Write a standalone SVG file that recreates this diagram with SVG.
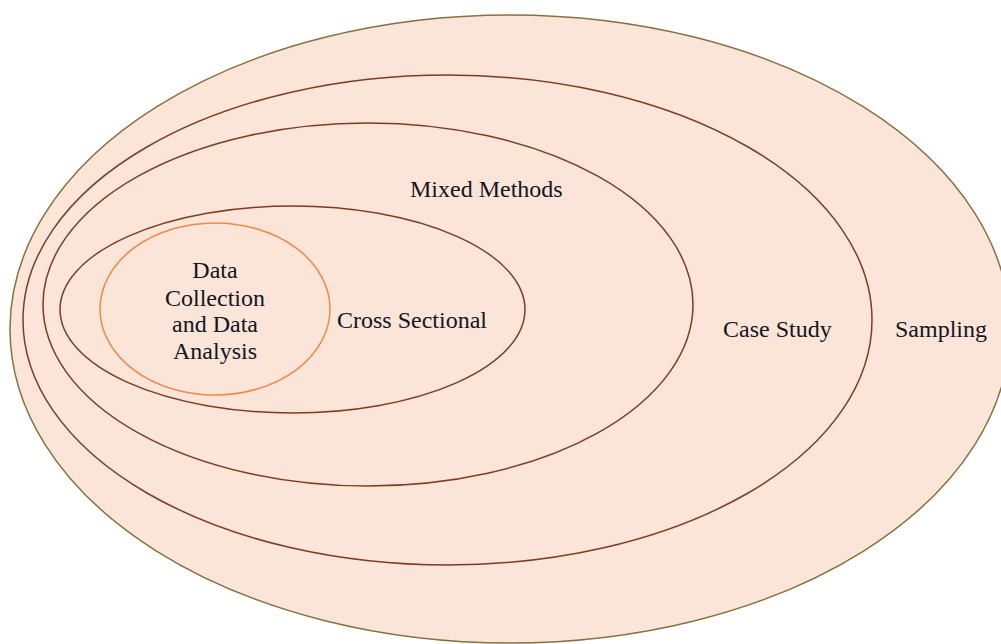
<svg xmlns="http://www.w3.org/2000/svg" width="1001" height="644" viewBox="0 0 1001 644">
<style>
.ring{fill:#FAE5D8;stroke:#7A3E22;stroke-width:1.5}
.lbl{font-family:"Liberation Serif","Times New Roman",serif;font-size:24px;fill:#14141e}
</style>
<rect width="1001" height="644" fill="#ffffff"/>
<g id="sampling">
<ellipse cx="510" cy="329" rx="500" ry="314" fill="#FAE5D8" stroke="#857240" stroke-width="1.5"/>
<text class="lbl" x="895" y="337">Sampling</text>
</g>
<g id="case-study">
<ellipse class="ring" cx="447.5" cy="320" rx="424.5" ry="245"/>
<text class="lbl" x="723" y="337">Case Study</text>
</g>
<g id="mixed-methods">
<ellipse class="ring" cx="368" cy="304.5" rx="325" ry="181.5"/>
<text class="lbl" x="410" y="197">Mixed Methods</text>
</g>
<g id="cross-sectional">
<ellipse class="ring" cx="292.5" cy="309.5" rx="232.5" ry="103.5"/>
<text class="lbl" x="337" y="328">Cross Sectional</text>
</g>
<g id="data-collection">
<ellipse cx="215" cy="309" rx="115" ry="86" fill="#FAE5D8" stroke="#F0884A" stroke-width="1.5"/>
<text class="lbl" text-anchor="middle"><tspan x="215" y="278">Data</tspan><tspan x="215" y="306">Collection</tspan><tspan x="215" y="332">and Data</tspan><tspan x="215" y="359">Analysis</tspan></text>
</g>
<g id="connectors"/>
</svg>
